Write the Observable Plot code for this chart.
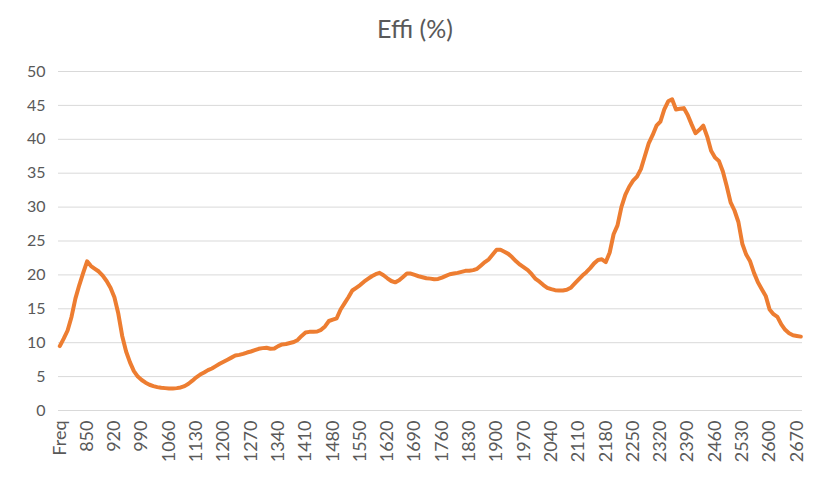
<!DOCTYPE html>
<html>
<head>
<meta charset="utf-8">
<script src="https://cdn.jsdelivr.net/npm/d3@7"></script>
<script src="https://cdn.jsdelivr.net/npm/@observablehq/plot@0.6"></script>
<style>
  html, body { margin: 0; padding: 0; background: #fff; }
  #title {
    width: 816px; height: 50px; box-sizing: border-box;
    padding-top: 5px; padding-left: 14px;
    display: flex; align-items: center; justify-content: center;
    font-family: Lato, "Open Sans", sans-serif; font-size: 25px; color: #595959;
  }
</style>
</head>
<body>
<div id="title">Effi (%)</div>
<div id="chart"></div>
<script>
// Category axis: first row is the header "Freq", then 790 … 2680 MHz in 10 MHz steps
const categories = ["Freq", ...d3.range(790, 2681, 10).map(String)];

// Efficiency (%), one value per category
const effi = [
  9.5, 10.6, 11.8, 13.8, 16.5, 18.5, 20.3, 22.0, 21.3, 20.9,
  20.5, 19.9, 19.1, 18.1, 16.7, 14.3, 11.0, 8.7, 7.1, 5.8,
  5.0, 4.5, 4.1, 3.8, 3.6, 3.45, 3.35, 3.3, 3.25, 3.25,
  3.3, 3.4, 3.6, 3.95, 4.4, 4.9, 5.3, 5.6, 5.95, 6.2,
  6.55, 6.9, 7.2, 7.5, 7.8, 8.1, 8.2, 8.35, 8.55, 8.7,
  8.9, 9.1, 9.2, 9.25, 9.1, 9.15, 9.5, 9.75, 9.8, 9.95,
  10.1, 10.4, 11.0, 11.5, 11.6, 11.6, 11.65, 11.9, 12.4, 13.2,
  13.4, 13.6, 14.9, 15.8, 16.7, 17.7, 18.1, 18.5, 19.0, 19.4,
  19.8, 20.1, 20.3, 19.95, 19.5, 19.1, 18.9, 19.2, 19.7, 20.2,
  20.2, 20.0, 19.8, 19.65, 19.5, 19.45, 19.35, 19.4, 19.6, 19.85,
  20.1, 20.2, 20.3, 20.45, 20.6, 20.6, 20.7, 20.9, 21.4, 21.9,
  22.3, 23.0, 23.7, 23.7, 23.4, 23.1, 22.6, 22.0, 21.5, 21.1,
  20.7, 20.1, 19.4, 19.0, 18.5, 18.1, 17.9, 17.75, 17.7, 17.7,
  17.8, 18.1, 18.7, 19.3, 19.9, 20.4, 21.0, 21.7, 22.2, 22.3,
  21.9, 23.3, 26.0, 27.3, 30.0, 31.8, 33.0, 33.9, 34.5, 35.6,
  37.5, 39.4, 40.6, 42.0, 42.6, 44.4, 45.6, 45.9, 44.4, 44.5,
  44.6, 43.6, 42.2, 40.9, 41.4, 42.0, 40.4, 38.3, 37.3, 36.8,
  35.3, 33.1, 30.7, 29.5, 27.8, 24.6, 23.0, 22.0, 20.3, 18.9,
  17.9, 16.9, 14.9, 14.2, 13.8, 12.7, 11.9, 11.4, 11.1, 11.0,
  10.9
];

// Tick labels shown on the category axis
const tickLabels = ["Freq", "850", "920", "990", "1060", "1130", "1200", "1270", "1340",
  "1410", "1480", "1550", "1620", "1690", "1760", "1830", "1900", "1970", "2040",
  "2110", "2180", "2250", "2320", "2390", "2460", "2530", "2600", "2670"];

const yTicks = [0, 5, 10, 15, 20, 25, 30, 35, 40, 45, 50];

const data = categories.map((c, i) => ({freq: c, effi: effi[i]}));

const chart = Plot.plot({
  width: 816,
  height: 429,
  marginTop: 21,
  marginBottom: 69,
  marginLeft: 58,
  marginRight: 14,
  style: {fontFamily: "Lato, 'Open Sans', sans-serif", fontSize: "16px", color: "#595959", background: "#fff"},
  x: {type: "point", domain: categories, range: [59.3, 800.3], padding: 0},
  y: {domain: [0, 50]},
  marks: [
    Plot.ruleY(yTicks, {stroke: "#d9d9d9", strokeWidth: 1}),
    Plot.axisY({ticks: yTicks, tickSize: 0, tickPadding: 13, fontSize: 16, fill: "#595959", label: null}),
    Plot.axisX({ticks: tickLabels, tickSize: 0, tickRotate: -90, tickPadding: 10, fontSize: 18, fill: "#595959", label: null}),
    Plot.lineY(data, {x: "freq", y: "effi", stroke: "#ED7D31", strokeWidth: 4,
      strokeLinejoin: "round", strokeLinecap: "round"})
  ]
});
document.getElementById("chart").appendChild(chart);
</script>
</body>
</html>
